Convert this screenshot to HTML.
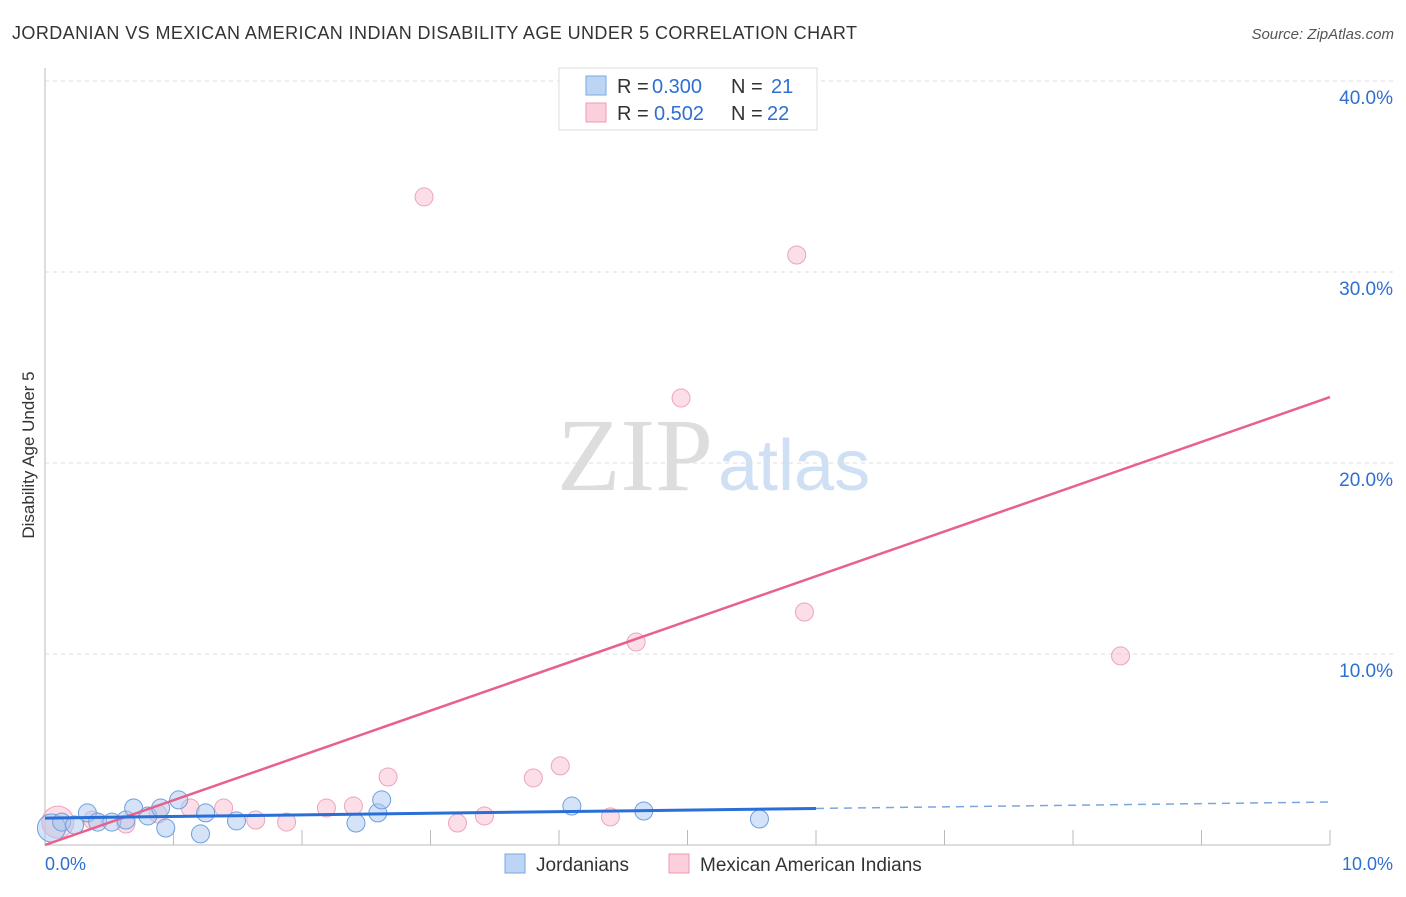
<!DOCTYPE html>
<html><head><meta charset="utf-8"><style>
body{margin:0;background:#fff;font-family:"Liberation Sans",sans-serif;}
</style></head><body>
<svg width="1406" height="892" xmlns="http://www.w3.org/2000/svg" id="chart">
<text x="12" y="39" font-size="18" fill="#333" textLength="845" lengthAdjust="spacing">JORDANIAN VS MEXICAN AMERICAN INDIAN DISABILITY AGE UNDER 5 CORRELATION CHART</text>
<text x="1394" y="39" font-size="15" fill="#555" font-style="italic" text-anchor="end">Source: ZipAtlas.com</text>
<text x="635" y="490" font-size="104" fill="#ddd" font-family="Liberation Serif,serif" text-anchor="middle">ZIP</text>
<text x="718" y="490" font-size="72" fill="#cfe0f5">atlas</text>
<text transform="translate(34,455) rotate(-90)" font-size="17" fill="#333" text-anchor="middle">Disability Age Under 5</text>
<g id="grid"></g><g id="pts"></g><g id="lines"></g>
<g>
<rect x="559" y="68" width="258" height="62" fill="#fff" stroke="#ddd"/>
<rect x="586" y="76" width="20" height="19" fill="#bcd5f5" stroke="#7aa6e0"/>
<rect x="586" y="103" width="20" height="19" fill="#fbd0dc" stroke="#ee9ab3"/>
<text y="93" font-size="20" fill="#333"><tspan x="617">R =</tspan><tspan x="652" fill="#2f6fd0">0.300</tspan><tspan x="731">N =</tspan><tspan x="771" fill="#2f6fd0">21</tspan></text>
<text y="120" font-size="20" fill="#333"><tspan x="617">R =</tspan><tspan x="654" fill="#2f6fd0">0.502</tspan><tspan x="731">N =</tspan><tspan x="767" fill="#2f6fd0">22</tspan></text>
</g>
<g>
<rect x="505" y="854" width="20" height="19" fill="#bcd5f5" stroke="#7aa6e0"/>
<text x="536" y="871" font-size="19" fill="#333">Jordanians</text>
<rect x="669" y="854" width="20" height="19" fill="#fbd0dc" stroke="#ee9ab3"/>
<text x="700" y="871" font-size="19" fill="#333">Mexican American Indians</text>
</g>
<text x="45" y="870" font-size="18" fill="#2f6fd0">0.0%</text>
<text x="1393" y="870" font-size="18" fill="#2f6fd0" text-anchor="end">10.0%</text>
</svg>
<script>
const blueX=[0.05,0.13,0.23,0.33,0.41,0.52,0.63,0.69,0.80,0.90,0.94,1.04,1.21,1.25,1.49,2.42,2.59,2.62,4.10,4.66,5.56];
const blueY=[0.89,1.20,1.05,1.68,1.20,1.20,1.31,1.94,1.52,1.94,0.89,2.36,0.58,1.68,1.26,1.15,1.68,2.36,2.04,1.78,1.36];
const pinkX=[0.10,0.37,0.63,0.88,1.13,1.39,1.64,1.88,2.19,2.40,2.67,2.95,3.21,3.42,3.80,4.01,4.40,4.60,4.95,5.85,5.91,8.37];
const pinkY=[1.20,1.31,1.10,1.62,1.94,1.94,1.31,1.20,1.94,2.04,3.56,33.93,1.15,1.52,3.51,4.14,1.47,10.63,23.40,30.89,12.20,9.90];
const yTicks=[10,20,30,40];
const yTickLabels=["10.0%","20.0%","30.0%","40.0%"];
const blueTrend=[1.41,0.084];
const pinkTrend=[0.0,2.345];
const NS="http://www.w3.org/2000/svg";
const sx=v=>45+v*128.5, sy=v=>845-v*19.1;
function mk(t,a,p){const e=document.createElementNS(NS,t);for(const k in a)e.setAttribute(k,a[k]);p.appendChild(e);return e;}
const grid=document.getElementById('grid');
mk('line',{x1:45,y1:68,x2:45,y2:845,stroke:'#bbb'},grid);
mk('line',{x1:45,y1:845,x2:1330,y2:845,stroke:'#bbb'},grid);
for(let i=1;i<=10;i++){const l=mk('line',{x1:sx(i),y1:830,x2:sx(i),y2:845,stroke:'#bbb'},grid);

}
yTicks.forEach((v,i)=>{const g=mk('line',{x1:45,y1:sy(v),x2:1393,y2:sy(v),stroke:'#ddd','stroke-dasharray':'4,4'},grid);


const t=mk('text',{x:1393,y:sy(v)+23,'font-size':19,fill:'#2f6fd0','text-anchor':'end'},grid);t.textContent=yTickLabels[i];

});
const pts=document.getElementById('pts');
pinkX.forEach((x,i)=>{const c=mk('circle',{cx:sx(x),cy:sy(pinkY[i]),r:i==0?16:9,fill:'rgba(248,190,208,0.5)',stroke:'#eea4bb'},pts);

});
blueX.forEach((x,i)=>{const c=mk('circle',{cx:sx(x),cy:sy(blueY[i]),r:i==0?14:9,fill:'rgba(170,200,240,0.5)',stroke:'#6f9fdf'},pts);

});
const ln=document.getElementById('lines');
const p=mk('line',{x1:sx(0),y1:sy(pinkTrend[0]),x2:sx(10),y2:sy(pinkTrend[0]+pinkTrend[1]*10),stroke:'#e8608f','stroke-width':2.5},ln);


const b=mk('line',{x1:sx(0),y1:sy(blueTrend[0]),x2:sx(6),y2:sy(blueTrend[0]+blueTrend[1]*6),stroke:'#2a6fd6','stroke-width':3},ln);


const bd=mk('line',{x1:sx(6),y1:sy(blueTrend[0]+blueTrend[1]*6),x2:sx(10),y2:sy(blueTrend[0]+blueTrend[1]*10),stroke:'#7aa6e0','stroke-width':1.5,'stroke-dasharray':'8,6'},ln);


</script>
</body></html>
